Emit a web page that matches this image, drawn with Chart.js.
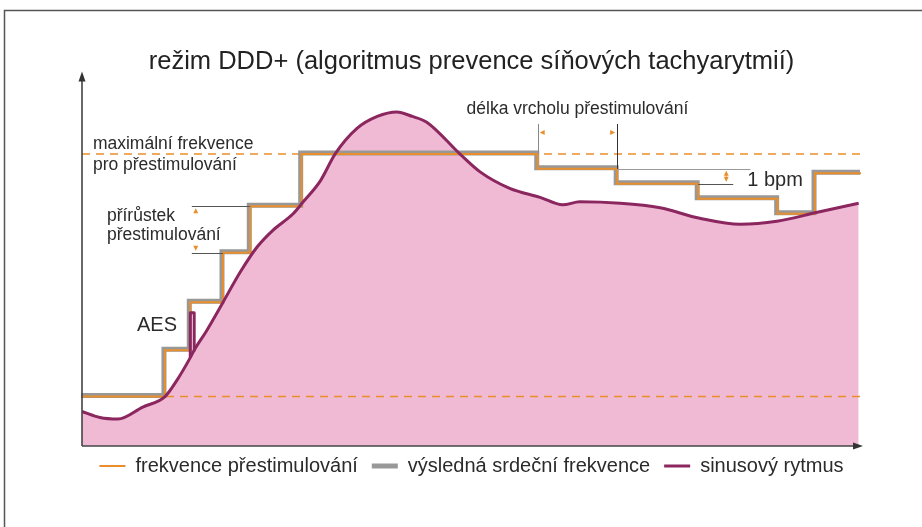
<!DOCTYPE html>
<html lang="cs">
<head>
<meta charset="utf-8">
<script src="https://cdn.jsdelivr.net/npm/chart.js@4.4.1/dist/chart.umd.min.js"></script>
<style>
  html, body { margin: 0; padding: 0; background: #fff; }
  #obal { position: relative; width: 922px; height: 527px; }
</style>
</head>
<body>
<div id="obal"><canvas id="graf"></canvas></div>
<script>
// Čas v relativních jednotkách (0–100), frekvence v bpm
const nadpis = 'režim DDD+ (algoritmus prevence síňových tachyarytmií)';

// sinusový rytmus
const sinusCas = [0, 2.3, 4.6, 7.8, 10.65, 12.2, 13.9, 14.4, 16.0, 18.0, 20.3, 22.5, 24.5, 27.1, 28.4, 30.6, 32.5, 35.3, 37.9, 40.4, 42.4, 44.3, 48.5, 51.1, 54.9, 58.8, 61.7, 63.9, 69.1, 74.2, 79.3, 84.5, 89.2, 94.4, 99.7];
const sinusTep = [57.3, 56.9, 56.8, 57.6, 58.3, 59.4, 60.9, 61.4, 62.7, 64.5, 66.6, 68.3, 69.4, 70.5, 71.3, 72.7, 74.5, 76.2, 77.0, 77.3, 77.0, 76.6, 74.5, 73.3, 72.2, 71.6, 71.1, 71.3, 71.2, 70.9, 70.2, 69.8, 70.0, 70.6, 71.2];

// síňová extrasystola (AES)
const aesCas = [13.9, 13.9, 14.4, 14.4];
const aesTep = [60.9, 63.9, 63.9, 61.4];

// frekvence přestimulování (schody)
const schodCas = [0, 10.65, 13.9, 18.1, 21.6, 28.2, 58.5, 68.7, 79.1, 89.3, 94.1, 100];
const schodTep = [58.3, 61.4, 64.6, 67.9, 71.0, 74.5, 73.5, 72.5, 71.5, 70.5, 73.2, 73.2];

// vodorovné hranice
const maxTep = 74.5;
const dolniTep = 58.3;
const hraniceCas = [0, 100];

const legenda = ['frekvence přestimulování', 'výsledná srdeční frekvence', 'sinusový rytmus'];

const ORANZOVA = 'rgb(233,142,42)';
const SEDA = 'rgb(152,152,152)';
const FIALOVA = 'rgb(139,38,95)';
const RUZOVA = 'rgb(240,186,212)';
const TEXT = '#2b2b2b';
const PISMO = "'Liberation Sans', Arial, sans-serif";

const body = (xs, ys) => xs.map((x, i) => ({ x, y: ys[i] }));

// šedá čára je trochu posunutá nahoru a doleva (stín)
const posunStinu = {
    id: 'posunStinu',
    beforeDatasetDraw(chart, args) {
        if (args.meta.dataset && chart.data.datasets[args.index].stin) {
            chart.ctx.save();
            chart.ctx.translate(-1, -1);
        }
    },
    afterDatasetDraw(chart, args) {
        if (args.meta.dataset && chart.data.datasets[args.index].stin) chart.ctx.restore();
    },
};

const posunLegendy = {
    id: 'posunLegendy',
    afterLayout(chart) { chart.legend.top -= 4; },
};

const ramecek = {
    id: 'ramecek',
    beforeDraw(chart) {
        const ctx = chart.ctx;
        ctx.save();
        ctx.strokeStyle = '#555';
        ctx.lineWidth = 1.5;
        ctx.strokeRect(4.5, 10.5, chart.width + 20, chart.height + 20);
        ctx.restore();
    },
};

function sipka(ctx, x, y, smer, delka, sirka) {
    // smer: 'l', 'r', 'u', 'd' – kam míří hrot
    ctx.beginPath();
    ctx.moveTo(x, y);
    if (smer === 'l') { ctx.lineTo(x + delka, y - sirka); ctx.lineTo(x + delka, y + sirka); }
    if (smer === 'r') { ctx.lineTo(x - delka, y - sirka); ctx.lineTo(x - delka, y + sirka); }
    if (smer === 'u') { ctx.lineTo(x - sirka, y + delka); ctx.lineTo(x + sirka, y + delka); }
    if (smer === 'd') { ctx.lineTo(x - sirka, y - delka); ctx.lineTo(x + sirka, y - delka); }
    ctx.closePath();
    ctx.fill();
}

const popisky = {
    id: 'popisky',
    afterDraw(chart) {
        const ctx = chart.ctx;
        const sx = chart.scales.x, sy = chart.scales.y;
        const px = v => sx.getPixelForValue(v);
        const py = v => sy.getPixelForValue(v);
        const area = chart.chartArea;
        const car = (x1, y1, x2, y2, barva, w) => {
            ctx.strokeStyle = barva;
            ctx.lineWidth = w;
            ctx.beginPath();
            ctx.moveTo(x1, y1);
            ctx.lineTo(x2, y2);
            ctx.stroke();
        };
        ctx.save();

        // osy se šipkami
        ctx.fillStyle = '#333';
        car(area.left, area.bottom, area.left, area.top + 4, '#444', 1.6);
        sipka(ctx, area.left, area.top - 3, 'u', 10, 3.5);
        car(area.left, area.bottom, area.right - 6, area.bottom, '#444', 1.6);
        sipka(ctx, area.right + 2, area.bottom, 'r', 10, 3.5);

        // délka vrcholu přestimulování
        const x1 = px(schodCas[6]), x2 = px(schodCas[7]);
        const horni = py(76.5);
        car(Math.round(x1) + 0.5, horni, Math.round(x1) + 0.5, py(schodTep[5]), '#888', 1);
        car(Math.round(x2) + 0.5, horni, Math.round(x2) + 0.5, py(schodTep[6]), '#333', 1);
        ctx.fillStyle = ORANZOVA;
        sipka(ctx, x1 + 2, py(75.93), 'l', 5, 2.5);
        sipka(ctx, x2 - 2, py(75.93), 'r', 5, 2.5);

        // 1 bpm
        car(x2, Math.round(py(schodTep[6])) + 0.5, px(85.8), Math.round(py(schodTep[6])) + 0.5, '#999', 1);
        car(px(schodCas[8]), Math.round(py(schodTep[7])) + 0.5, px(83.6), Math.round(py(schodTep[7])) + 0.5, '#555', 1);
        const xb = px(82.7);
        car(xb, py(schodTep[6]) + 3, xb, py(schodTep[7]) - 3, ORANZOVA, 0.8);
        sipka(ctx, xb, py(schodTep[6]) + 2, 'u', 5, 2.5);
        sipka(ctx, xb, py(schodTep[7]) - 2, 'd', 5, 2.5);

        // přírůstek přestimulování
        const xp = px(14.1);
        car(xp, Math.round(py(schodTep[4])) + 0.5, px(schodCas[4]), Math.round(py(schodTep[4])) + 0.5, '#555', 1);
        car(xp, Math.round(py(schodTep[3])) + 0.5, px(schodCas[3]), Math.round(py(schodTep[3])) + 0.5, '#555', 1);
        ctx.fillStyle = ORANZOVA;
        sipka(ctx, px(14.6), py(schodTep[4]) + 2, 'u', 5, 2.5);
        sipka(ctx, px(14.6), py(schodTep[3]) - 2, 'd', 5, 2.5);

        // texty
        ctx.fillStyle = TEXT;
        ctx.textBaseline = 'middle';
        ctx.font = '17.5px ' + PISMO;
        ctx.textAlign = 'center';
        ctx.fillText('délka vrcholu přestimulování', (x1 + x2) / 2, py(77.5));
        ctx.textAlign = 'left';
        ctx.fillText('maximální frekvence', px(1.4), py(75.13));
        ctx.fillText('pro přestimulování', px(1.4), py(73.73));
        ctx.fillText('přírůstek', px(3.2), py(70.33));
        ctx.fillText('přestimulování', px(3.2), py(69.07));
        ctx.font = '20px ' + PISMO;
        ctx.fillText('1 bpm', px(85.4), py(72.73));
        ctx.fillText('AES', px(7.06), py(63.07));

        ctx.restore();
    },
};

new Chart(document.getElementById('graf'), {
    type: 'line',
    data: {
        datasets: [
            {
                label: legenda[2], poradi: 2,
                data: body(sinusCas, sinusTep),
                borderColor: FIALOVA, borderWidth: 3,
                backgroundColor: RUZOVA, fill: 'start',
                cubicInterpolationMode: 'monotone', pointRadius: 0,
            },
            {
                data: body(aesCas, aesTep),
                borderColor: FIALOVA, borderWidth: 3, borderJoinStyle: 'round',
                tension: 0, pointRadius: 0, fill: false,
            },
            {
                label: legenda[0], poradi: 0,
                data: body(schodCas, schodTep),
                borderColor: ORANZOVA, borderWidth: 2,
                stepped: 'before', pointRadius: 0, fill: false,
            },
            {
                label: legenda[1], poradi: 1, stin: true,
                data: body(schodCas, schodTep),
                borderColor: SEDA, borderWidth: 5,
                stepped: 'before', pointRadius: 0, fill: false,
            },
            {
                data: body(hraniceCas, [maxTep, maxTep]),
                borderColor: ORANZOVA, borderWidth: 1.5, borderDash: [8, 6],
                pointRadius: 0, fill: false,
            },
            {
                data: body(hraniceCas, [dolniTep, dolniTep]),
                borderColor: ORANZOVA, borderWidth: 1.5, borderDash: [8, 6],
                pointRadius: 0, fill: false,
            },
        ],
    },
    options: {
        responsive: true,
        maintainAspectRatio: false,
        animation: false,
        events: [],
        layout: { padding: { left: 82, right: 61, top: 49, bottom: 37 } },
        scales: {
            x: { type: 'linear', min: 0, max: 100, display: false },
            y: { type: 'linear', min: 55, max: 79.8, display: false },
        },
        plugins: {
            filler: { drawTime: 'beforeDatasetsDraw' },
            tooltip: { enabled: false },
            title: {
                display: true,
                text: nadpis,
                color: '#222',
                font: { family: PISMO, size: 25.5, weight: 'normal', lineHeight: 1 },
                padding: { top: 0, bottom: 0 },
            },
            legend: {
                position: 'bottom',
                labels: {
                    usePointStyle: true,
                    pointStyleWidth: 26,
                    padding: 14,
                    color: TEXT,
                    font: { family: PISMO, size: 20 },
                    generateLabels(chart) {
                        return chart.data.datasets
                            .filter(d => d.label)
                            .sort((a, b) => a.poradi - b.poradi)
                            .map(d => ({
                                text: d.label,
                                pointStyle: 'line',
                                strokeStyle: d.borderColor,
                                fillStyle: d.borderColor,
                                lineWidth: d.borderWidth,
                                fontColor: TEXT,
                                hidden: false,
                            }));
                    },
                },
            },
        },
    },
    plugins: [posunStinu, posunLegendy, ramecek, popisky],
});
</script>
</body>
</html>
